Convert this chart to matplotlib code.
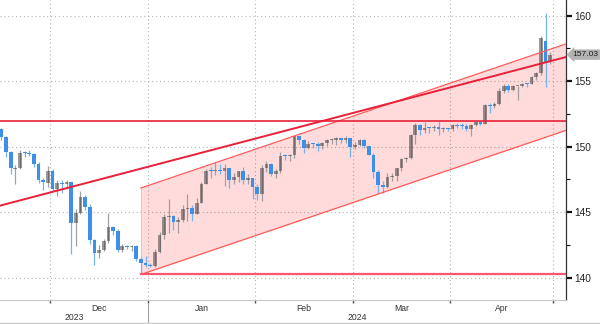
import matplotlib
matplotlib.use("Agg")
import matplotlib.pyplot as plt
import matplotlib.transforms as mtransforms
import numpy as np
import pandas as pd

# daily USDJPY-style candles, 16 Nov 2023 .. 30 Apr 2024 (weekdays)
dates = pd.bdate_range("2023-11-16", "2024-04-30")

opens = [
    151.38, 150.72, 149.60, 148.33, 148.38, 149.55, 149.55, 149.44, 148.69, 147.45, 147.26,
    148.18, 146.80, 147.20, 147.13, 147.29, 144.17, 144.95, 146.17, 145.41, 142.89, 141.89,
    142.15, 142.78, 143.85, 143.59, 142.15, 142.40, 142.36, 142.40, 141.44, 141.10,
    141.00, 140.92, 142.00, 143.28, 144.62, 144.68, 144.24, 144.44, 145.24, 145.31, 144.87,
    145.73, 147.18, 148.16, 148.13, 148.14, 148.11, 148.37, 147.47, 147.66, 148.16, 147.43, 147.59,
    146.90, 146.42, 148.38, 148.68, 147.95, 148.17, 149.30, 149.27, 149.34, 150.80, 150.53,
    149.92, 150.20, 150.17, 150.04, 150.30, 150.51, 150.51, 150.68, 150.50, 150.67,
    149.98, 150.11, 150.51, 150.02, 149.37, 148.05, 147.06, 146.94, 147.67, 147.76, 148.35,
    149.05, 149.12, 150.87, 151.65, 151.30, 151.43, 151.41, 151.54, 151.33, 151.36,
    151.35, 151.66, 151.57, 151.56, 151.38, 151.63, 151.86, 151.77, 153.18, 153.10, 153.27,
    154.27, 154.64, 154.31, 154.63, 154.64, 154.82, 154.78, 155.35, 155.63, 158.05, 156.45,
]
highs = [
    151.43, 150.80, 149.70, 148.57, 149.75, 149.67, 149.75, 149.50, 148.80, 147.62, 148.52,
    148.31, 147.47, 147.43, 147.49, 147.32, 145.21, 146.59, 146.30, 145.59, 142.96, 142.52,
    142.97, 144.96, 143.92, 143.71, 142.58, 142.50, 142.50, 142.51, 141.59, 141.65,
    141.10, 142.22, 143.49, 144.84, 145.98, 144.81, 144.65, 145.56, 146.41, 145.58, 146.08,
    147.31, 148.29, 148.45, 148.81, 148.70, 148.70, 148.41, 147.96, 148.17, 148.48, 147.90, 147.64,
    147.17, 148.57, 148.89, 148.78, 148.30, 149.57, 149.48, 149.44, 150.89, 150.82, 150.56,
    150.47, 150.27, 150.36, 150.36, 150.58, 150.70, 150.77, 150.69, 150.84, 150.68,
    150.38, 150.62, 150.56, 150.09, 149.52, 148.26, 147.36, 147.96, 148.03, 148.36, 149.16,
    149.22, 150.96, 151.82, 151.72, 151.86, 151.53, 151.63, 151.97, 151.50, 151.43,
    151.77, 151.78, 151.80, 151.70, 151.73, 151.95, 151.93, 153.24, 153.32, 153.38, 154.45,
    154.78, 154.77, 154.72, 154.65, 154.86, 154.88, 155.37, 155.74, 158.44, 160.20, 157.25,
]
lows = [
    150.51, 149.19, 147.95, 147.15, 148.28, 149.18, 149.27, 148.47, 147.24, 146.67, 146.95,
    146.64, 146.23, 146.45, 146.79, 141.80, 142.40, 144.86, 145.18, 142.55, 140.97, 141.51,
    142.07, 142.63, 143.26, 141.93, 141.95, 142.22, 142.07, 141.28, 140.25, 140.81,
    140.85, 140.81, 141.89, 142.98, 143.42, 143.67, 143.42, 144.27, 144.35, 144.35, 144.84,
    145.71, 147.12, 147.64, 147.82, 147.93, 146.98, 146.83, 147.15, 147.31, 147.13, 147.13, 146.04,
    145.90, 145.89, 148.10, 147.80, 147.63, 148.00, 148.99, 148.92, 149.16, 150.17, 149.52,
    149.84, 149.90, 149.66, 149.80, 150.03, 150.24, 150.15, 150.27, 150.31, 149.22,
    149.80, 150.07, 149.89, 149.37, 147.58, 146.48, 146.48, 146.84, 147.42, 147.38, 148.16,
    148.80, 149.04, 150.23, 150.90, 151.05, 151.06, 151.23, 150.90, 151.15, 151.23,
    151.22, 151.40, 151.36, 151.20, 150.81, 151.60, 151.67, 151.75, 152.60, 152.98, 153.18,
    154.12, 154.14, 154.23, 153.60, 154.55, 154.59, 154.76, 155.06, 155.49, 154.53, 156.30,
]
closes = [
    150.72, 149.62, 148.34, 148.37, 149.55, 149.52, 149.44, 148.69, 147.45, 147.27, 148.18,
    146.79, 147.20, 147.13, 147.29, 144.17, 144.95, 146.17, 145.41, 142.89, 141.89, 142.15,
    142.78, 143.85, 143.59, 142.15, 142.40, 142.36, 142.40, 141.44, 141.10, 141.00,
    140.92, 142.00, 143.28, 144.62, 144.68, 144.24, 144.44, 145.24, 145.31, 144.87, 145.73,
    147.18, 148.16, 148.13, 148.14, 148.11, 148.37, 147.47, 147.66, 148.16, 147.43, 147.59, 146.90,
    146.42, 148.38, 148.68, 147.95, 148.17, 149.30, 149.27, 149.34, 150.80, 150.53, 149.92,
    150.20, 150.17, 150.04, 150.30, 150.51, 150.51, 150.68, 150.50, 150.67, 149.98,
    150.11, 150.51, 150.02, 149.37, 148.05, 147.06, 146.94, 147.67, 147.76, 148.35, 149.05,
    149.12, 150.87, 151.65, 151.30, 151.43, 151.41, 151.54, 151.33, 151.36, 151.35,
    151.66, 151.57, 151.56, 151.38, 151.63, 151.86, 151.77, 153.18, 153.10, 153.27, 154.27,
    154.64, 154.31, 154.63, 154.64, 154.82, 154.78, 155.35, 155.63, 158.33, 156.45, 157.03,
]
last_price = 157.03

# drawn levels and trend lines (date, price)
resistance = 151.95
support = 140.25
support_start = "2023-12-28"
trend_pts = [("2023-11-16", 145.53), ("2024-04-30", 156.53)]
channel_pts = [("2023-12-28", 140.25), ("2024-04-30", 150.84)]
channel_width = 6.6

month_names = ["Dec", "Jan", "Feb", "Mar", "Apr"]
year_names = ["2023", "2024"]
yticks = [140, 145, 150, 155, 160]

UP = "#3a3a3a"
DOWN = "#3d8fe8"
RED = "#e8203a"
GRID = "#b4b4b4"
FONT = "Liberation Sans"

o, h, l, c = (np.array(a) for a in (opens, highs, lows, closes))
x = np.arange(len(dates))
pos = {d.strftime("%Y-%m-%d"): i for i, d in enumerate(dates)}

fig = plt.figure(figsize=(6, 3.24), dpi=100)
ax = fig.add_axes([0, 24 / 324, 566 / 600, 300 / 324])
x0, x1 = -0.3, 121.4
ax.set_xlim(x0, x1)
ax.set_ylim(138.3, 161.2)

# month boundaries
bounds = [i - 0.5 for i in range(1, len(dates)) if dates[i].month != dates[i - 1].month]
bounds.append(len(dates) - 0.5)
for b in bounds:
    ax.axvline(b, color=GRID, lw=0.8, ls=(0, (1, 2.5)), zorder=0)
for yv in yticks:
    ax.axhline(yv, color=GRID, lw=0.8, ls=(0, (1, 2.5)), zorder=0)

# channel
xs = np.array([pos[channel_pts[0][0]], x1])
slope = (channel_pts[1][1] - channel_pts[0][1]) / (pos[channel_pts[1][0]] - pos[channel_pts[0][0]])
lower = channel_pts[0][1] + slope * (xs - xs[0])
upper = lower + channel_width
ax.fill_between(xs, lower, upper, color="#ff2020", alpha=0.16, lw=0, zorder=1)
ax.plot(xs, lower, color="#ff5a5a", lw=0.9, zorder=4)
ax.plot(xs, upper, color="#ff5a5a", lw=0.9, zorder=4)
ax.plot([xs[0], xs[0]], [lower[0], upper[0]], color="#ffb0b0", lw=0.6, zorder=1)

# long trendline
tx = np.array([x0, x1])
tslope = (trend_pts[1][1] - trend_pts[0][1]) / (pos[trend_pts[1][0]] - pos[trend_pts[0][0]])
ax.plot(tx, trend_pts[0][1] + tslope * (tx - pos[trend_pts[0][0]]), color=RED, lw=1.4, zorder=4)

# horizontal levels
ax.axhline(resistance, color=RED, lw=1.2, zorder=4)
ax.plot([pos[support_start], x1], [support, support], color="#ff5570", lw=1.6, zorder=4)

# candles
up = c >= o
body_lo = np.minimum(o, c)
body_h = np.maximum(np.abs(c - o), 0.08)
ax.vlines(x[up], l[up], h[up], color="#a0a0a0", lw=0.9, zorder=2)
ax.vlines(x[~up], l[~up], h[~up], color="#74b2f2", lw=0.9, zorder=2)
ax.bar(x[up], body_h[up], bottom=body_lo[up], width=0.8, color=UP, alpha=0.5, lw=0, zorder=3)
ax.bar(x[~up], body_h[~up], bottom=body_lo[~up], width=0.8, color=DOWN, lw=0, zorder=3)

# axes styling
for side in ("left", "top"):
    ax.spines[side].set_visible(False)
ax.spines["right"].set_color("#333333")
ax.spines["right"].set_linewidth(0.9)
ax.spines["bottom"].set_color("#c8c8c8")
ax.yaxis.tick_right()
ax.set_yticks(yticks)
ax.set_yticklabels([str(v) for v in yticks], fontsize=7.3, family=FONT, color="#222222")
ax.set_yticks([v + 2.5 for v in yticks[:-1]], minor=True)
ax.tick_params(axis="y", which="major", length=4, width=1.6, pad=2, color="#111111")
ax.tick_params(axis="y", which="minor", length=3, width=0.8, color="#111111")
ax.set_xticks(bounds)
ax.set_xticklabels([])
ax.tick_params(axis="x", length=2.5, width=1, color="#555555")

tr = mtransforms.blended_transform_factory(ax.transData, ax.transAxes)
for name, a, b in zip(month_names, bounds[:-1], bounds[1:]):
    ax.text((a + b) / 2, -0.028, name, transform=tr, ha="center", va="center",
            fontsize=6.2, family=FONT, color="#333333")
year_edges = [x0, bounds[1], x1]
for name, a, b in zip(year_names, year_edges[:-1], year_edges[1:]):
    ax.text((a + b) / 2, -0.059, name, transform=tr, ha="center", va="center",
            fontsize=6.2, family=FONT, color="#333333")
ax.plot([bounds[1], bounds[1]], [-0.01, -0.085], transform=tr, color="#a0a0a0",
        lw=0.8, clip_on=False)
fig.add_artist(plt.Line2D([0, 1], [0.004, 0.004], color="#d0d0d0", lw=1.0))

# last price tag
ptr = mtransforms.blended_transform_factory(ax.transAxes, ax.transData)
ax.text(1.011, last_price, f"{last_price:.2f}", transform=ptr, ha="left", va="center",
        fontsize=6.1, family=FONT, color="#222222",
        bbox=dict(boxstyle="larrow,pad=0.2", fc="#b2b2b2", ec="none"))

fig.savefig("out.png", dpi=100)
